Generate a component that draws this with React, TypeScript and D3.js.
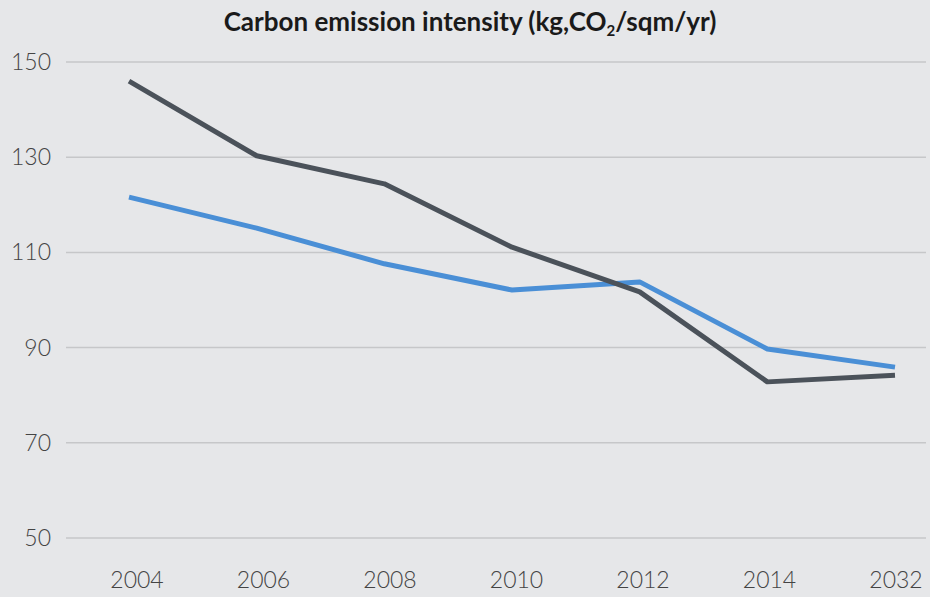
import * as React from "react";
import * as d3 from "d3";

const years = ["2004", "2006", "2008", "2010", "2012", "2014", "2032"];
const darkSeries = [146.0, 130.3, 124.4, 111.1, 101.7, 82.8, 84.2];
const blueSeries = [121.6, 115.1, 107.6, 102.1, 103.8, 89.7, 85.9];
const yTicks = [50, 70, 90, 110, 130, 150];

const W = 930;
const H = 597;
const bg = "#e6e7e9";
const font = "Lato, 'Open Sans', sans-serif";

export default function App() {
  const x = d3.scalePoint<string>().domain(years).range([129, 895]);
  const y = d3.scaleLinear().domain([50, 150]).range([538, 62]);
  // tick labels sit on a slightly narrower spread than the data points
  const xLabel = d3.scalePoint<string>().domain(years).range([137, 896]);

  const line = d3
    .line<number>()
    .x((_, i) => x(years[i]) ?? 0)
    .y((d) => y(d));

  return (
    <div style={{ position: "fixed", left: 0, top: 0, width: W, height: H }}>
      <svg width={W} height={H} style={{ display: "block", background: bg }}>
        <rect x={0} y={0} width={W} height={H} fill={bg} />

        <text
          x={470}
          y={31}
          textAnchor="middle"
          fontFamily={font}
          fontWeight="700"
          fontSize="26"
          fill="#1a1a1a"
        >
          Carbon emission intensity (kg,CO
          <tspan fontSize="15" dy="5">2</tspan>
          <tspan dy="-5">/sqm/yr)</tspan>
        </text>

        {yTicks.map((t) => (
          <g key={t}>
            <line x1={66} x2={926} y1={y(t)} y2={y(t)} stroke="#c6c7c9" strokeWidth={1.5} />
            <text
              x={51}
              y={y(t) + 8}
              textAnchor="end"
              fontFamily={font}
              fontWeight="300"
              fontSize="23"
              fill="#444"
            >
              {t}
            </text>
          </g>
        ))}

        {years.map((yr) => (
          <text
            key={yr}
            x={xLabel(yr) ?? 0}
            y={588}
            textAnchor="middle"
            fontFamily={font}
            fontWeight="300"
            fontSize="23"
            fill="#444"
          >
            {yr}
          </text>
        ))}

        <path
          d={line(blueSeries) ?? ""}
          fill="none"
          stroke="#4a8fd6"
          strokeWidth={5}
          strokeLinejoin="round"
        />
        <path
          d={line(darkSeries) ?? ""}
          fill="none"
          stroke="#4b525a"
          strokeWidth={5}
          strokeLinejoin="round"
        />
      </svg>
    </div>
  );
}
